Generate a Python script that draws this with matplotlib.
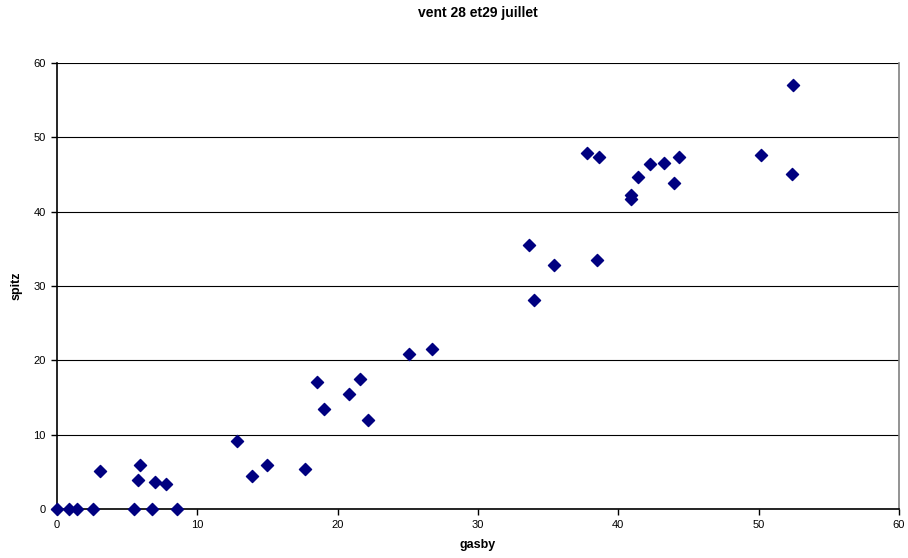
import numpy as np
import matplotlib.pyplot as plt

plt.rcParams['font.family'] = ['Liberation Sans', 'DejaVu Sans']

# gasby (x) and spitz (y) readings
gasby = [0.0, 0.88, 1.43, 2.55, 3.07, 5.52, 5.74, 5.88, 6.76, 6.98, 7.79, 8.55,
         12.84, 13.91, 15.0, 17.66, 18.5, 19.02, 20.84, 21.57, 22.16, 25.09, 26.69,
         33.62, 33.98, 35.45, 37.79, 38.62, 38.5, 40.93, 40.93, 41.41, 42.26, 43.24,
         43.95, 44.34, 50.16, 52.48, 52.36]
spitz = [0.0, 0.0, 0.0, 0.0, 5.15, 0.0, 3.9, 5.92, 0.0, 3.67, 3.36, 0.0,
         9.19, 4.44, 5.92, 5.34, 17.13, 13.45, 15.47, 17.45, 11.97, 20.81, 21.53,
         35.52, 28.12, 32.79, 47.94, 47.32, 33.5, 42.24, 41.7, 44.71, 46.37, 46.59,
         43.82, 47.32, 47.67, 57.04, 45.07]

fig = plt.figure(figsize=(9.08, 5.58), dpi=100)
ax = fig.add_axes([0.0628, 0.0878, 0.9272, 0.7992])

ax.scatter(gasby, spitz, marker='D', s=38, color='#000080', zorder=3, clip_on=False)

ax.set_xlim(0, 60)
ax.set_ylim(0, 60)
ax.set_xticks(np.arange(0, 61, 10))
ax.set_yticks(np.arange(0, 61, 10))
ax.yaxis.grid(True, color='black', linewidth=0.8)
ax.set_axisbelow(True)

ax.spines['top'].set_visible(False)
ax.spines['right'].set_color('#808080')
ax.spines['right'].set_linewidth(1.2)
ax.spines['left'].set_linewidth(1.2)
ax.spines['bottom'].set_linewidth(1.2)
ax.tick_params(direction='out', length=4, width=1, labelsize=8, pad=4)

ax.set_title('vent 28 et29 juillet', fontsize=10, fontweight='bold', pad=33)
ax.set_xlabel('gasby', fontsize=9, fontweight='bold', labelpad=6.5)
ax.set_ylabel('spitz', fontsize=9, fontweight='bold', labelpad=8)

plt.savefig('out.png', dpi=100)
